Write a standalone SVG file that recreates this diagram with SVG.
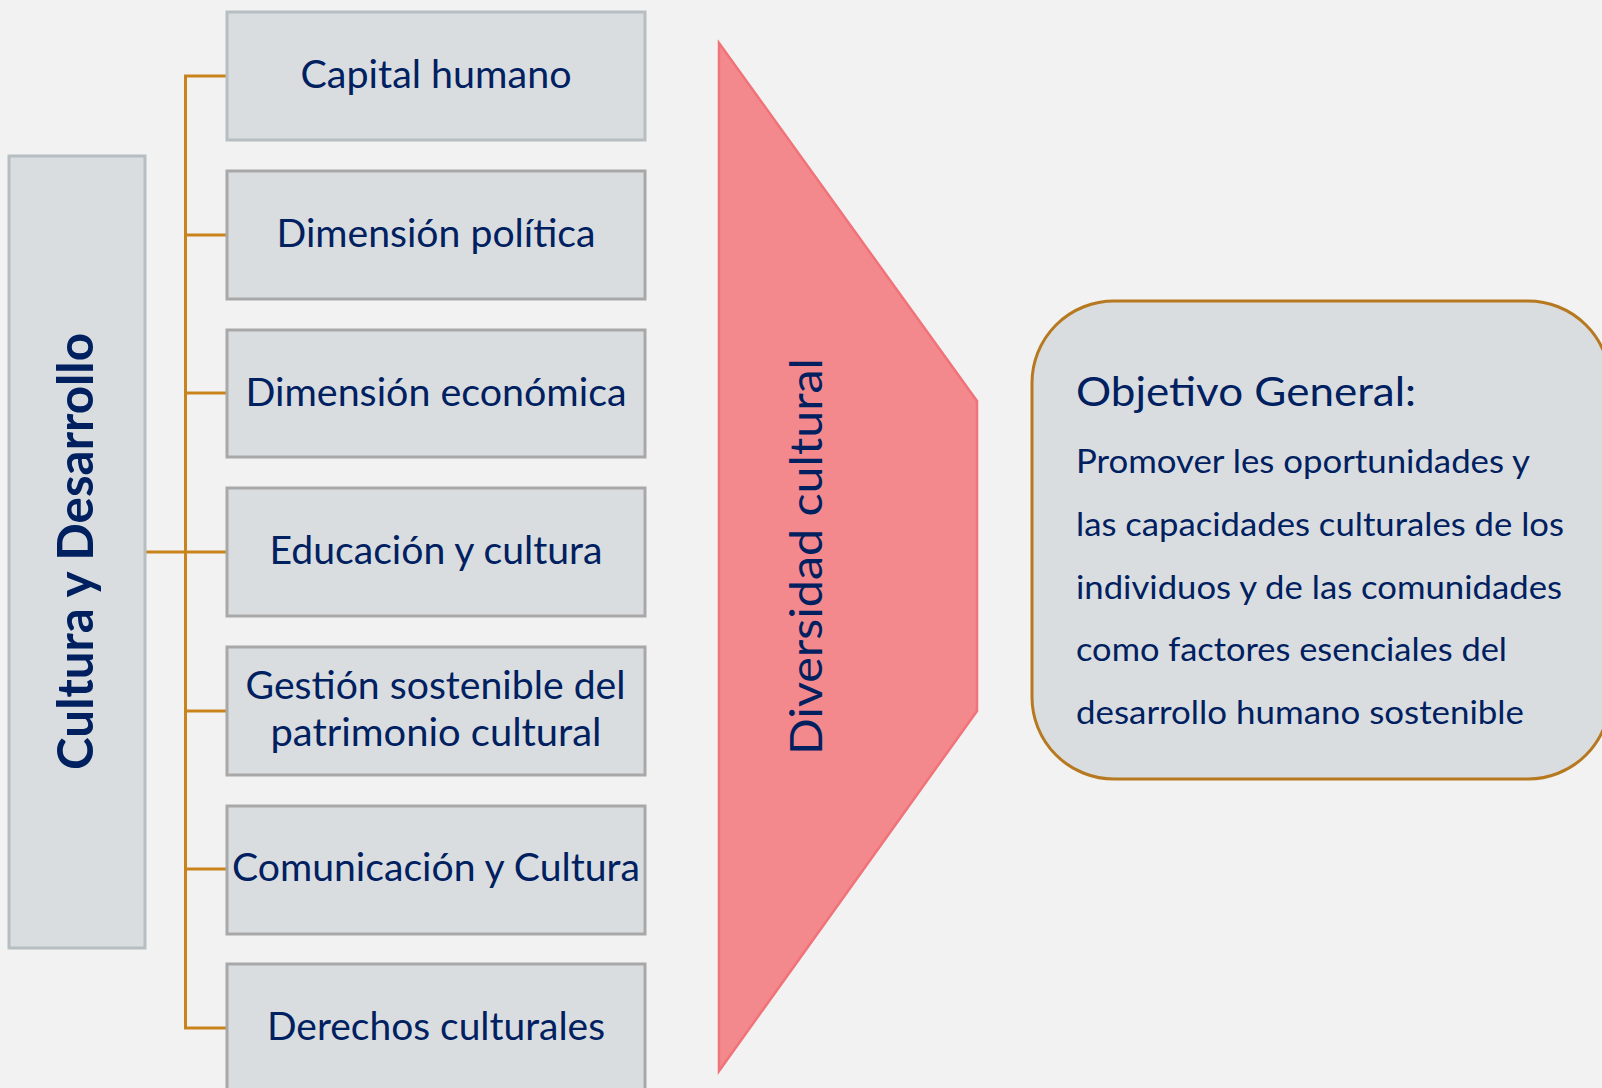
<svg xmlns="http://www.w3.org/2000/svg" width="1602" height="1088" viewBox="0 0 1602 1088">
<style>
.bg{fill:#f2f2f2}
.box{fill:#d9dde0;stroke:#a8a8a8;stroke-width:3}
.box.light{stroke:#b7bec1}
.lbl{font-family:Lato,"Open Sans","Noto Sans",sans-serif;font-size:38px;fill:#002060;text-anchor:middle}
.conn{fill:none;stroke:#c9831c;stroke-width:3}
.big{font-family:Lato,"Open Sans","Noto Sans",sans-serif;fill:#002060}
</style>
<rect class="bg" x="0" y="0" width="1602" height="1088"/>

<g id="connectors">
<line class="conn" x1="145" y1="552" x2="185.5" y2="552"/>
<line class="conn" x1="185.5" y1="76" x2="185.5" y2="1028"/>
<line class="conn" x1="184" y1="76" x2="227" y2="76"/>
<line class="conn" x1="184" y1="235" x2="227" y2="235"/>
<line class="conn" x1="184" y1="393" x2="227" y2="393"/>
<line class="conn" x1="184" y1="552" x2="227" y2="552"/>
<line class="conn" x1="184" y1="711" x2="227" y2="711"/>
<line class="conn" x1="184" y1="869" x2="227" y2="869"/>
<line class="conn" x1="184" y1="1028" x2="227" y2="1028"/>
</g>

<g id="cultura-desarrollo">
<rect class="box light" x="9" y="156" width="136" height="792"/>
<text class="big" font-weight="bold" font-size="49" text-anchor="middle" textLength="437" lengthAdjust="spacingAndGlyphs" transform="translate(92.5,551.5) rotate(-90)">Cultura y Desarrollo</text>
</g>

<g id="capital-humano">
<rect class="box light" x="227" y="12" width="418" height="128"/>
<text class="lbl" x="436" y="88" textLength="271" lengthAdjust="spacingAndGlyphs">Capital humano</text>
</g>
<g id="dimension-politica">
<rect class="box" x="227" y="171" width="418" height="128"/>
<text class="lbl" x="436" y="247" textLength="319" lengthAdjust="spacingAndGlyphs">Dimensión política</text>
</g>
<g id="dimension-economica">
<rect class="box" x="227" y="330" width="418" height="127"/>
<text class="lbl" x="436" y="406" textLength="381" lengthAdjust="spacingAndGlyphs">Dimensión económica</text>
</g>
<g id="educacion-cultura">
<rect class="box" x="227" y="488" width="418" height="128"/>
<text class="lbl" x="436" y="564" textLength="333" lengthAdjust="spacingAndGlyphs">Educación y cultura</text>
</g>
<g id="gestion-patrimonio">
<rect class="box" x="227" y="647" width="418" height="128"/>
<text class="lbl" x="435.5" y="699" textLength="380" lengthAdjust="spacingAndGlyphs">Gestión sostenible del</text>
<text class="lbl" x="436" y="746" textLength="331" lengthAdjust="spacingAndGlyphs">patrimonio cultural</text>
</g>
<g id="comunicacion-cultura">
<rect class="box" x="227" y="806" width="418" height="128"/>
<text class="lbl" x="436" y="881" textLength="408" lengthAdjust="spacingAndGlyphs">Comunicación y Cultura</text>
</g>
<g id="derechos-culturales">
<rect class="box" x="227" y="964" width="418" height="128"/>
<text class="lbl" x="436" y="1040" textLength="338" lengthAdjust="spacingAndGlyphs">Derechos culturales</text>
</g>

<g id="diversidad-cultural">
<polygon points="719,43 977,401 977,711 719,1071" fill="#f4898d" stroke="#f0737a" stroke-width="2.5"/>
<text class="big" font-size="44" text-anchor="middle" textLength="397" lengthAdjust="spacingAndGlyphs" transform="translate(822,556.5) rotate(-90)">Diversidad cultural</text>
</g>

<g id="objetivo-general">
<rect x="1032" y="301" width="578" height="478" rx="82" ry="82" fill="#d9dde0" stroke="#b7791f" stroke-width="3"/>
<text class="big" x="1076" y="406" font-size="41" textLength="340" lengthAdjust="spacingAndGlyphs">Objetivo General:</text>
<text class="big" x="1076" y="473" font-size="32" textLength="454" lengthAdjust="spacingAndGlyphs">Promover les oportunidades y</text>
<text class="big" x="1076" y="536" font-size="32" textLength="488" lengthAdjust="spacingAndGlyphs">las capacidades culturales de los</text>
<text class="big" x="1076" y="599" font-size="32" textLength="486" lengthAdjust="spacingAndGlyphs">individuos y de las comunidades</text>
<text class="big" x="1076" y="661" font-size="32" textLength="431" lengthAdjust="spacingAndGlyphs">como factores esenciales del</text>
<text class="big" x="1076" y="724" font-size="32" textLength="448" lengthAdjust="spacingAndGlyphs">desarrollo humano sostenible</text>
</g>
</svg>
